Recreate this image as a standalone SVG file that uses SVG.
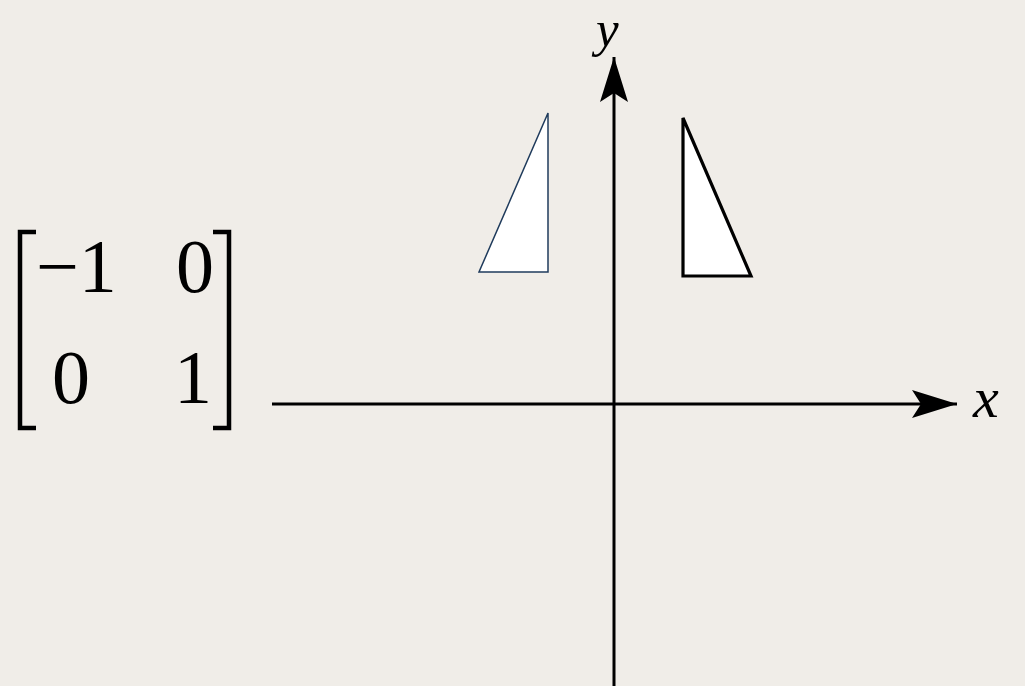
<svg xmlns="http://www.w3.org/2000/svg" width="1025" height="686" viewBox="0 0 1025 686">
<style>
.num{font-family:"Liberation Serif","Times New Roman",serif;font-size:76px;fill:#000}
.lab{font-family:"Liberation Serif","Times New Roman",serif;font-style:italic;font-size:58px;fill:#000}
.ylab{font-size:51px}
.br{fill:none;stroke:#000;stroke-width:4.5}
.axis{stroke:#000;stroke-width:3;fill:none}
</style>
<defs>
<marker id="arr" markerUnits="userSpaceOnUse" markerWidth="50" markerHeight="30" refX="45" refY="14" orient="auto">
<path d="M45,14 L0,0 L9,14 L0,28 Z" fill="#000"/>
</marker>
</defs>
<rect width="1025" height="686" fill="#f0ede8"/>
<g id="matrix">
<path class="br" d="M36,232 H20 V428 H36"/>
<path class="br" d="M213,232 H229 V428 H213"/>
<text class="num" x="36" y="292">−1</text>
<text class="num" x="195" y="292" text-anchor="middle">0</text>
<text class="num" x="71" y="403" text-anchor="middle">0</text>
<text class="num" x="193" y="403" text-anchor="middle">1</text>
</g>
<g id="connectors">
<line class="axis" x1="272" y1="404" x2="957" y2="404" marker-end="url(#arr)"/>
<line class="axis" x1="614" y1="686" x2="614" y2="57" marker-end="url(#arr)"/>
</g>
<g id="x-label"><text class="lab" x="973" y="417">x</text></g>
<g id="y-label"><text class="lab ylab" x="596" y="46">y</text></g>
<g id="triangle-left">
<polygon points="548,113 479,272 548,272" fill="#fff" stroke="#1f3b5c" stroke-width="1.5"/>
</g>
<g id="triangle-right">
<polygon points="683,118 683,276 751,276" fill="#fff" stroke="#000" stroke-width="3.2" stroke-linejoin="miter"/>
</g>
</svg>
